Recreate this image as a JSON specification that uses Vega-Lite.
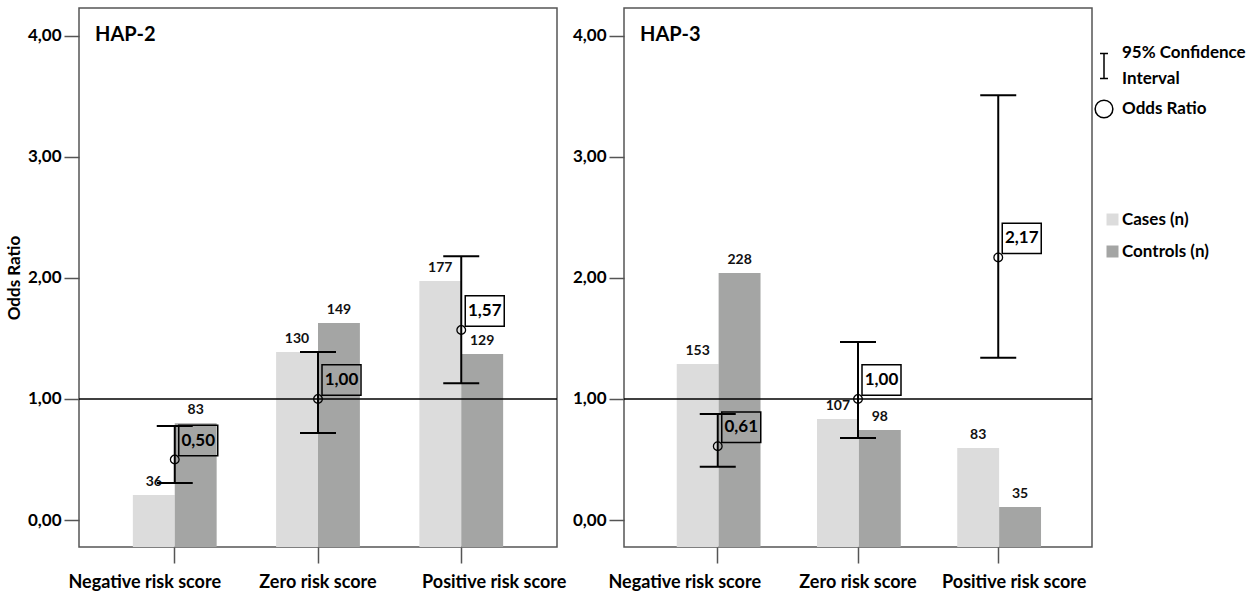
{
  "$schema": "https://vega.github.io/schema/vega-lite/v6.json",
  "padding": {"left": 4, "top": 7, "right": 5, "bottom": 5},
  "background": "white",
  "config": {
    "font": "Lato",
    "view": {"stroke": "#555", "strokeWidth": 1.5},
    "axis": {"labelFont": "Lato", "labelFontWeight": "bold", "labelColor": "#000", "tickColor": "#555", "tickWidth": 1.5, "domain": false, "grid": false, "titleFont": "Lato", "titleColor": "#000"},
    "style": {"guide-label": {"lineHeight": 26}},
    "concat": {"spacing": 4}
  },
  "datasets": {
    "bars": [
      {"panel": "HAP-2", "score": "Negative risk score", "group": "Cases (n)", "value": 0.207, "n": 36},
      {"panel": "HAP-2", "score": "Negative risk score", "group": "Controls (n)", "value": 0.80, "n": 83},
      {"panel": "HAP-2", "score": "Zero risk score", "group": "Cases (n)", "value": 1.388, "n": 130},
      {"panel": "HAP-2", "score": "Zero risk score", "group": "Controls (n)", "value": 1.628, "n": 149},
      {"panel": "HAP-2", "score": "Positive risk score", "group": "Cases (n)", "value": 1.975, "n": 177},
      {"panel": "HAP-2", "score": "Positive risk score", "group": "Controls (n)", "value": 1.372, "n": 129},
      {"panel": "HAP-3", "score": "Negative risk score", "group": "Cases (n)", "value": 1.289, "n": 153},
      {"panel": "HAP-3", "score": "Negative risk score", "group": "Controls (n)", "value": 2.041, "n": 228},
      {"panel": "HAP-3", "score": "Zero risk score", "group": "Cases (n)", "value": 0.835, "n": 107},
      {"panel": "HAP-3", "score": "Zero risk score", "group": "Controls (n)", "value": 0.744, "n": 98},
      {"panel": "HAP-3", "score": "Positive risk score", "group": "Cases (n)", "value": 0.595, "n": 83},
      {"panel": "HAP-3", "score": "Positive risk score", "group": "Controls (n)", "value": 0.107, "n": 35}
    ],
    "or": [
      {"panel": "HAP-2", "score": "Negative risk score", "or": 0.50, "lo": 0.306, "hi": 0.777, "label": "0,50", "marker": "Odds Ratio"},
      {"panel": "HAP-2", "score": "Zero risk score", "or": 1.00, "lo": 0.719, "hi": 1.388, "label": "1,00", "marker": "Odds Ratio"},
      {"panel": "HAP-2", "score": "Positive risk score", "or": 1.57, "lo": 1.13, "hi": 2.18, "label": "1,57", "marker": "Odds Ratio"},
      {"panel": "HAP-3", "score": "Negative risk score", "or": 0.61, "lo": 0.44, "hi": 0.876, "label": "0,61", "marker": "Odds Ratio"},
      {"panel": "HAP-3", "score": "Zero risk score", "or": 1.00, "lo": 0.678, "hi": 1.47, "label": "1,00", "marker": "Odds Ratio"},
      {"panel": "HAP-3", "score": "Positive risk score", "or": 2.17, "lo": 1.34, "hi": 3.51, "label": "2,17", "marker": "Odds Ratio"}
    ]
  },
  "hconcat": [
    {
      "width": 478,
      "height": 539,
      "title": {"text": "HAP-2", "anchor": "start", "frame": "group", "offset": -53, "dx": 16, "fontSize": 20, "fontWeight": "bold", "baseline": "alphabetic", "font": "Lato", "color": "#000"},
      "encoding": {
        "x": {"field": "score", "type": "nominal", "sort": ["Negative risk score", "Zero risk score", "Positive risk score"], "scale": {"paddingInner": 0.415, "paddingOuter": 0.376}, "title": null, "axis": {"labelAngle": 0, "labelFontSize": 18, "tickSize": 16, "labelPadding": 10, "labelOffset": {"condition": [{"test": "datum.value == 'Negative risk score'", "value": -30}, {"test": "datum.value == 'Positive risk score'", "value": 33}], "value": 0}}}
      },
      "layer": [
        {
          "data": {"name": "bars"},
          "transform": [{"filter": "datum.panel == 'HAP-2'"}],
          "mark": {"type": "bar"},
          "encoding": {
            "xOffset": {"field": "group", "type": "nominal", "sort": ["Cases (n)", "Controls (n)"], "scale": {"paddingInner": 0, "paddingOuter": 0}},
            "y": {"field": "value", "type": "quantitative", "scale": {"domain": [-0.223, 4.231], "nice": false, "zero": false}, "axis": {"values": [0, 1, 2, 3, 4], "labelExpr": "replace(format(datum.value, '.2f'), '.', ',')", "labelFontSize": 17, "tickSize": 15, "labelPadding": 3, "title": "Odds Ratio", "titleFontSize": 17, "titleFontWeight": "bold", "titlePadding": 4}},
            "y2": {"datum": -0.223},
            "fill": {"field": "group", "type": "nominal", "scale": {"domain": ["Cases (n)", "Controls (n)"], "range": ["#dcdcdc", "#a4a5a4"]}, "legend": {"title": null, "orient": "none", "legendX": 1025, "legendY": 203, "symbolType": "square", "symbolSize": 144, "symbolStrokeWidth": 0, "labelFontSize": 17, "labelFontWeight": "bold", "labelFont": "Lato", "labelColor": "#000", "labelOffset": 1, "rowPadding": 14}}
          }
        },
        {
          "data": {"name": "bars"},
          "transform": [{"filter": "datum.panel == 'HAP-2'"}],
          "mark": {"type": "text", "dy": -13, "fontSize": 14, "fontWeight": "bold", "baseline": "middle", "color": "#111"},
          "encoding": {
            "xOffset": {"field": "group", "type": "nominal", "sort": ["Cases (n)", "Controls (n)"]},
            "y": {"field": "value", "type": "quantitative"},
            "text": {"field": "n", "type": "quantitative"}
          }
        },
        {
          "data": {"values": [{"ref": 1}]},
          "mark": {"type": "rule", "color": "black", "strokeWidth": 1.5},
          "encoding": {"x": null, "y": {"field": "ref", "type": "quantitative"}}
        },
        {
          "data": {"name": "or"},
          "transform": [{"filter": "datum.panel == 'HAP-2'"}],
          "mark": {"type": "rule", "color": "black", "strokeWidth": 2},
          "encoding": {"y": {"field": "lo", "type": "quantitative"}, "y2": {"field": "hi"}}
        },
        {
          "data": {"name": "or"},
          "transform": [{"filter": "datum.panel == 'HAP-2'"}],
          "mark": {"type": "tick", "orient": "horizontal", "size": 36, "thickness": 2, "color": "black", "opacity": 1},
          "encoding": {"y": {"field": "lo", "type": "quantitative"}}
        },
        {
          "data": {"name": "or"},
          "transform": [{"filter": "datum.panel == 'HAP-2'"}],
          "mark": {"type": "tick", "orient": "horizontal", "size": 36, "thickness": 2, "color": "black", "opacity": 1},
          "encoding": {"y": {"field": "hi", "type": "quantitative"}}
        },
        {
          "data": {"name": "or"},
          "transform": [{"filter": "datum.panel == 'HAP-2'"}],
          "mark": {"type": "point", "filled": false, "size": 75, "strokeWidth": 1.3, "color": "black", "opacity": 1},
          "encoding": {
            "y": {"field": "or", "type": "quantitative"},
            "shape": {"field": "marker", "type": "nominal", "scale": {"domain": ["95% Confidence Interval", "Odds Ratio"], "range": ["M-0.45,0.06H0.45M0,0.06V2.88M-0.45,2.88H0.45", "circle"]}, "legend": {"title": null, "orient": "none", "legendX": 1015, "legendY": 35, "symbolSize": 314, "symbolStrokeWidth": 1.5, "symbolStrokeColor": "black", "symbolFillColor": "transparent", "labelFontSize": 17, "labelFontWeight": "bold", "labelFont": "Lato", "labelColor": "#000", "labelOffset": 8, "labelExpr": "datum.label == '95% Confidence Interval' ? ['95% Confidence', 'Interval'] : datum.label", "rowPadding": 10}}
          }
        },
        {
          "data": {"name": "or"},
          "transform": [{"filter": "datum.panel == 'HAP-2'"}],
          "mark": {"type": "point", "shape": "M-1,-0.78H1V0.78H-1Z", "size": 1521, "filled": false, "color": "black", "strokeWidth": 1.5, "opacity": 1, "xOffset": 23.5, "yOffset": -19},
          "encoding": {"y": {"field": "or", "type": "quantitative"}}
        },
        {
          "data": {"name": "or"},
          "transform": [{"filter": "datum.panel == 'HAP-2'"}],
          "mark": {"type": "text", "dx": 23.5, "dy": -19, "fontSize": 17, "fontWeight": "bold", "baseline": "middle", "align": "center", "color": "#000"},
          "encoding": {"y": {"field": "or", "type": "quantitative"}, "text": {"field": "label"}}
        }
      ]
    },
    {
      "width": 468,
      "height": 539,
      "title": {"text": "HAP-3", "anchor": "start", "frame": "group", "offset": -53, "dx": 16, "fontSize": 20, "fontWeight": "bold", "baseline": "alphabetic", "font": "Lato", "color": "#000"},
      "encoding": {
        "x": {"field": "score", "type": "nominal", "sort": ["Negative risk score", "Zero risk score", "Positive risk score"], "scale": {"paddingInner": 0.415, "paddingOuter": 0.376}, "title": null, "axis": {"labelAngle": 0, "labelFontSize": 18, "tickSize": 16, "labelPadding": 10, "labelOffset": {"condition": [{"test": "datum.value == 'Negative risk score'", "value": -33}, {"test": "datum.value == 'Positive risk score'", "value": 16}], "value": 0}}}
      },
      "layer": [
        {
          "data": {"name": "bars"},
          "transform": [{"filter": "datum.panel == 'HAP-3'"}],
          "mark": {"type": "bar"},
          "encoding": {
            "xOffset": {"field": "group", "type": "nominal", "sort": ["Cases (n)", "Controls (n)"], "scale": {"paddingInner": 0, "paddingOuter": 0}},
            "y": {"field": "value", "type": "quantitative", "scale": {"domain": [-0.223, 4.231], "nice": false, "zero": false}, "axis": {"values": [0, 1, 2, 3, 4], "labelExpr": "replace(format(datum.value, '.2f'), '.', ',')", "labelFontSize": 17, "tickSize": 15, "labelPadding": 3, "title": null}},
            "y2": {"datum": -0.223},
            "fill": {"field": "group", "type": "nominal"}
          }
        },
        {
          "data": {"name": "bars"},
          "transform": [{"filter": "datum.panel == 'HAP-3'"}],
          "mark": {"type": "text", "dy": -13, "fontSize": 14, "fontWeight": "bold", "baseline": "middle", "color": "#111"},
          "encoding": {
            "xOffset": {"field": "group", "type": "nominal", "sort": ["Cases (n)", "Controls (n)"]},
            "y": {"field": "value", "type": "quantitative"},
            "text": {"field": "n", "type": "quantitative"}
          }
        },
        {
          "data": {"values": [{"ref": 1}]},
          "mark": {"type": "rule", "color": "black", "strokeWidth": 1.5},
          "encoding": {"x": null, "y": {"field": "ref", "type": "quantitative"}}
        },
        {
          "data": {"name": "or"},
          "transform": [{"filter": "datum.panel == 'HAP-3'"}],
          "mark": {"type": "rule", "color": "black", "strokeWidth": 2},
          "encoding": {"y": {"field": "lo", "type": "quantitative"}, "y2": {"field": "hi"}}
        },
        {
          "data": {"name": "or"},
          "transform": [{"filter": "datum.panel == 'HAP-3'"}],
          "mark": {"type": "tick", "orient": "horizontal", "size": 36, "thickness": 2, "color": "black", "opacity": 1},
          "encoding": {"y": {"field": "lo", "type": "quantitative"}}
        },
        {
          "data": {"name": "or"},
          "transform": [{"filter": "datum.panel == 'HAP-3'"}],
          "mark": {"type": "tick", "orient": "horizontal", "size": 36, "thickness": 2, "color": "black", "opacity": 1},
          "encoding": {"y": {"field": "hi", "type": "quantitative"}}
        },
        {
          "data": {"name": "or"},
          "transform": [{"filter": "datum.panel == 'HAP-3'"}],
          "mark": {"type": "point", "filled": false, "size": 75, "strokeWidth": 1.3, "color": "black", "opacity": 1},
          "encoding": {
            "y": {"field": "or", "type": "quantitative"},
            "shape": {"field": "marker", "type": "nominal"}
          }
        },
        {
          "data": {"name": "or"},
          "transform": [{"filter": "datum.panel == 'HAP-3'"}],
          "mark": {"type": "point", "shape": "M-1,-0.78H1V0.78H-1Z", "size": 1521, "filled": false, "color": "black", "strokeWidth": 1.5, "opacity": 1, "xOffset": 23.5, "yOffset": -19},
          "encoding": {"y": {"field": "or", "type": "quantitative"}}
        },
        {
          "data": {"name": "or"},
          "transform": [{"filter": "datum.panel == 'HAP-3'"}],
          "mark": {"type": "text", "dx": 23.5, "dy": -19, "fontSize": 17, "fontWeight": "bold", "baseline": "middle", "align": "center", "color": "#000"},
          "encoding": {"y": {"field": "or", "type": "quantitative"}, "text": {"field": "label"}}
        }
      ]
    }
  ],
  "resolve": {"scale": {"fill": "shared", "shape": "shared"}, "legend": {"fill": "shared", "shape": "shared"}}
}
